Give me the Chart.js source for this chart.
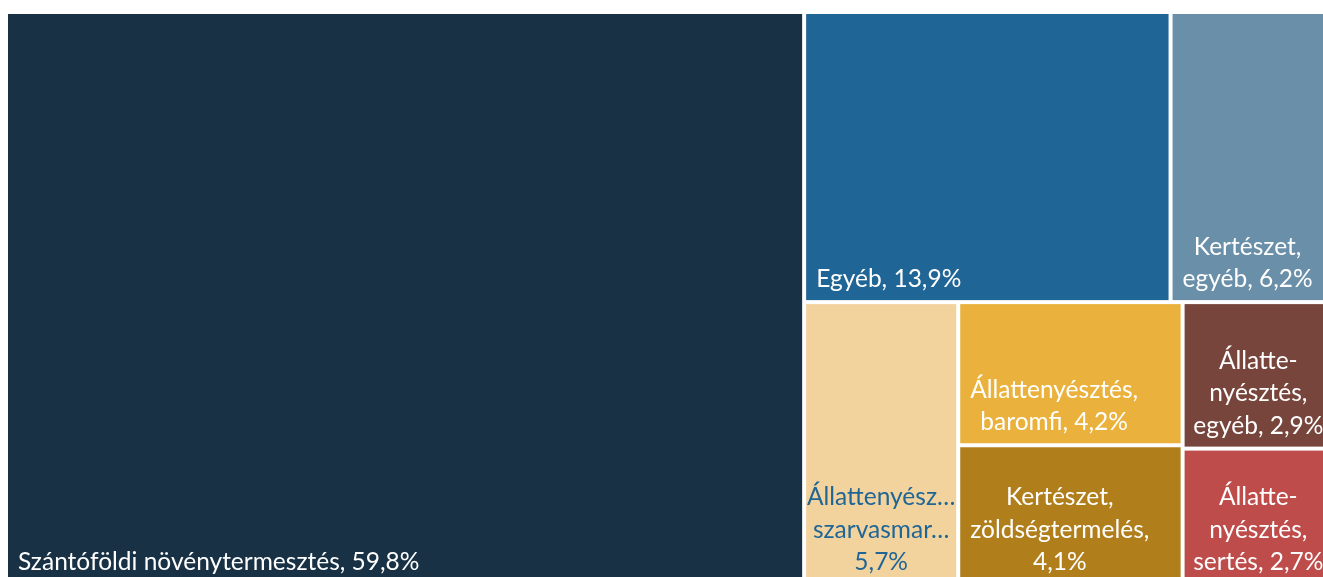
<!DOCTYPE html>
<html lang="hu">
<head>
<meta charset="utf-8">
<title>Treemap</title>
<script src="https://cdn.jsdelivr.net/npm/chart.js@4.4.1/dist/chart.umd.min.js"></script>
<style>
    html, body {
        margin: 0;
        padding: 0;
        background: #ffffff;
        overflow: hidden;
    }
    #wrap {
        position: relative;
        width: 1334px;
        height: 585px;
    }
</style>
</head>
<body>
<div id="wrap"><canvas id="treemap"></canvas></div>
<script>
/**
 * Chart data
 */
const categories = [
    'Szántóföldi növénytermesztés',
    'Egyéb',
    'Kertészet, egyéb',
    'Állattenyésztés, szarvasmarha',
    'Állattenyésztés, baromfi',
    'Kertészet, zöldségtermelés',
    'Állattenyésztés, egyéb',
    'Állattenyésztés, sertés'
];

const shares = [59.8, 13.9, 6.2, 5.7, 4.2, 4.1, 2.9, 2.7];

// label text as it is wrapped in each cell (value is appended to the last line)
const nameLines = [
    ['Szántóföldi növénytermesztés,'],
    ['Egyéb,'],
    ['Kertészet,', 'egyéb,'],
    ['Állattenyész…', 'szarvasmar…', ''],
    ['Állattenyésztés,', 'baromfi,'],
    ['Kertészet,', 'zöldségtermelés,', ''],
    ['Állatte-', 'nyésztés,', 'egyéb,'],
    ['Állatte-', 'nyésztés,', 'sertés,']
];

const cellColors = ['#183145', '#1f6596', '#6a8fa9', '#f2d39e', '#eab23c', '#b07f1c', '#77453c', '#bd4c4a'];
const textColors = ['#ffffff', '#ffffff', '#ffffff', '#1f6596', '#ffffff', '#ffffff', '#ffffff', '#ffffff'];

/**
 * Format a share the Hungarian way (decimal comma)
 */
function formatShare(value) {
    return value.toFixed(1).replace('.', ',') + '%';
}

function buildLabel(i) {
    const lines = nameLines[i].slice();
    const last = lines[lines.length - 1];
    lines[lines.length - 1] = (last ? last + ' ' : '') + formatShare(shares[i]);
    return lines;
}

/**
 * Squarified treemap layout (Bruls et al.)
 * Works in pixel-proportional units so aspect ratios are compared correctly.
 */
function worstRatio(row, side) {
    const s = row.reduce((a, r) => a + r.area, 0);
    let worst = 0;
    row.forEach(r => {
        const q = Math.max((side * side * r.area) / (s * s), (s * s) / (side * side * r.area));
        if (q > worst) worst = q;
    });
    return worst;
}

function squarify(values, width, height) {
    const total = values.reduce((a, v) => a + v, 0);
    let items = values.map((v, i) => ({ i: i, area: v / total * width * height }));
    const out = [];
    let rect = { x: 0, y: 0, w: width, h: height };

    while (items.length) {
        const side = Math.min(rect.w, rect.h);
        let row = [items[0]];
        let k = 1;
        while (k < items.length) {
            const next = row.concat(items[k]);
            if (worstRatio(next, side) <= worstRatio(row, side)) {
                row = next;
                k++;
            } else {
                break;
            }
        }
        items = items.slice(k);
        const rowArea = row.reduce((a, r) => a + r.area, 0);

        if (rect.w >= rect.h) {
            // column along the left edge
            const colW = rowArea / rect.h;
            let y = rect.y;
            row.forEach(r => {
                const h = r.area / colW;
                out[r.i] = { x: rect.x, y: y, w: colW, h: h };
                y += h;
            });
            rect = { x: rect.x + colW, y: rect.y, w: rect.w - colW, h: rect.h };
        } else {
            // row along the top edge
            const rowH = rowArea / rect.w;
            let x = rect.x;
            row.forEach(r => {
                const w = r.area / rowH;
                out[r.i] = { x: x, y: rect.y, w: w, h: rowH };
                x += w;
            });
            rect = { x: rect.x, y: rect.y + rowH, w: rect.w, h: rect.h - rowH };
        }
    }
    return out;
}

/**
 * Plugin that draws the treemap cells through the chart's x/y scales
 */
const FONT_SIZE = 24.5;
const LINE_HEIGHT = 32.5;
const FONT = FONT_SIZE + "px 'Lato', sans-serif";

const treemapPlugin = {
    id: 'treemapCells',
    afterDatasetsDraw(chart) {
        const ctx = chart.ctx;
        const area = chart.chartArea;
        const xs = chart.scales.x;
        const ys = chart.scales.y;
        const W = area.right - area.left;
        const H = area.bottom - area.top;

        // layout in pixel units, converted to 0..100 data units
        const cells = squarify(shares, W, H).map(c => ({
            x0: c.x / W * 100,
            x1: (c.x + c.w) / W * 100,
            y0: c.y / H * 100,
            y1: (c.y + c.h) / H * 100
        }));

        const gap = 2;
        ctx.save();
        cells.forEach((c, i) => {
            const left = xs.getPixelForValue(c.x0) + gap;
            const right = xs.getPixelForValue(c.x1) - gap;
            const top = ys.getPixelForValue(c.y0) + gap;
            const bottom = ys.getPixelForValue(c.y1) - gap;

            ctx.fillStyle = cellColors[i];
            ctx.fillRect(left, top, right - left, bottom - top);

            // label: block anchored bottom-left, lines centred within the block
            const lines = buildLabel(i);
            ctx.font = FONT;
            ctx.fillStyle = textColors[i];
            ctx.textBaseline = 'alphabetic';
            ctx.textAlign = 'center';
            const blockW = Math.max(...lines.map(l => ctx.measureText(l).width));
            let cx = left + 10 + blockW / 2;
            if (blockW > right - left - 20) {
                cx = (left + right) / 2;
            }
            ctx.save();
            ctx.beginPath();
            ctx.rect(left, top, right - left, bottom - top);
            ctx.clip();
            const baseLast = bottom - 13;
            lines.forEach((line, li) => {
                const y = baseLast - (lines.length - 1 - li) * LINE_HEIGHT;
                ctx.fillText(line, cx, y);
            });
            ctx.restore();
        });
        ctx.restore();
    }
};

const chart = new Chart(document.getElementById('treemap'), {
    type: 'scatter',
    data: {
        datasets: [{
            label: 'Részesedés',
            data: []
        }]
    },
    options: {
        responsive: true,
        maintainAspectRatio: false,
        animation: false,
        layout: {
            padding: { left: 6, top: 12, right: 0, bottom: 0 }
        },
        plugins: {
            legend: { display: false },
            tooltip: { enabled: false }
        },
        scales: {
            x: { type: 'linear', min: 0, max: 100, display: false },
            y: { type: 'linear', min: 0, max: 100, reverse: true, display: false }
        }
    },
    plugins: [treemapPlugin]
});
</script>
</body>
</html>
